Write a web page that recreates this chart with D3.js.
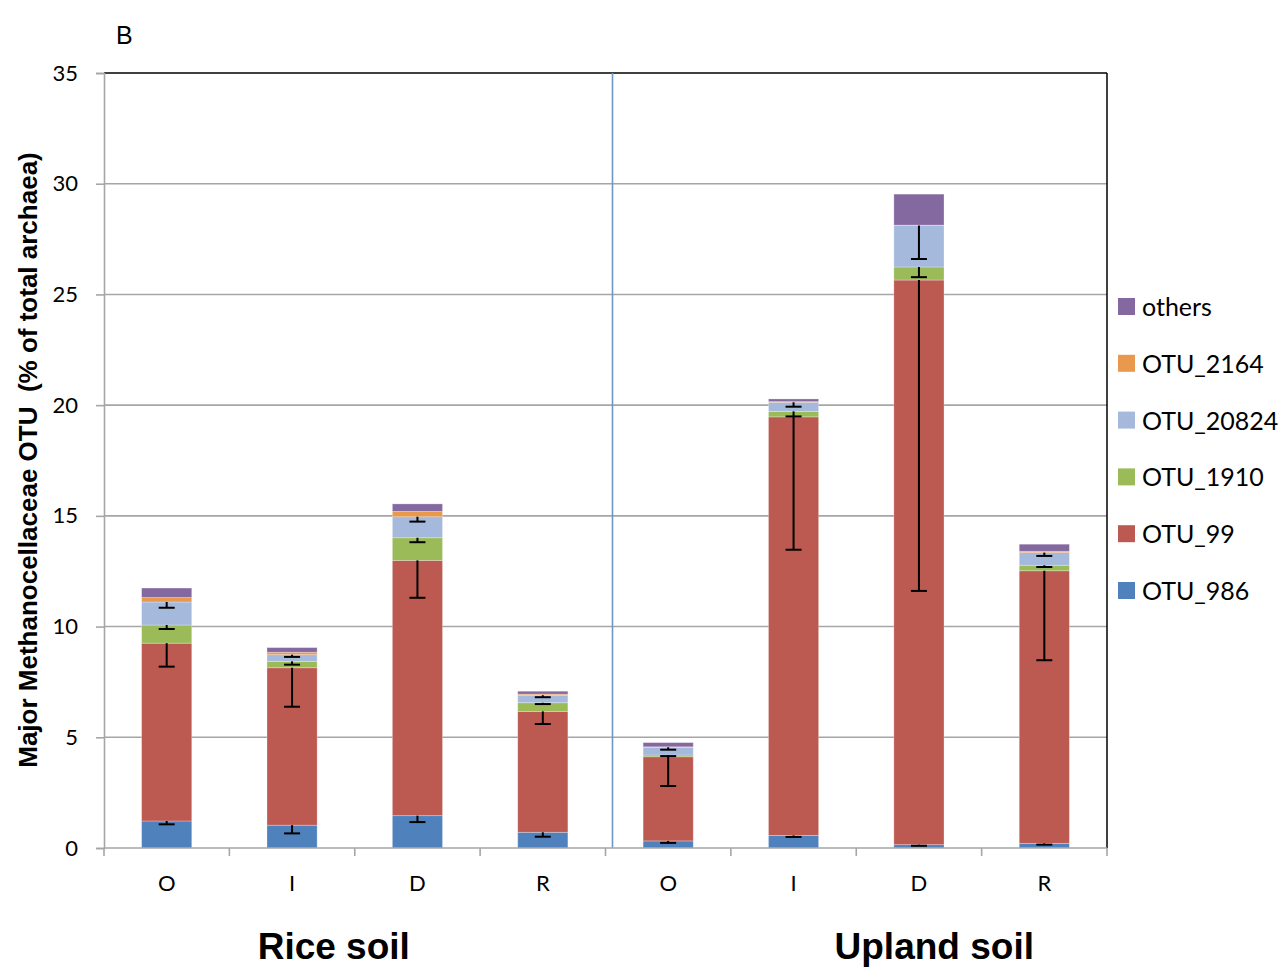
<!DOCTYPE html>
<html>
<head>
<meta charset="utf-8">
<script src="https://cdn.jsdelivr.net/npm/d3@7"></script>
<style>
  html, body { margin: 0; padding: 0; background: #fff; }
  svg { display: block; }
</style>
</head>
<body>
<svg id="chart" width="1286" height="978"></svg>
<script>
// Samples along the x axis (O, I, D, R for each soil)
const categories = ["O", "I", "D", "R", "O", "I", "D", "R"];
const groups = ["Rice soil", "Upland soil"];
const yTicks = [0, 5, 10, 15, 20, 25, 30, 35];

// Relative abundance (% of total archaea), stacked bottom to top
const otu986   = [1.22, 1.03, 1.46, 0.71, 0.32, 0.57, 0.15, 0.21];
const otu99    = [8.03, 7.11, 11.53, 5.46, 3.80, 18.90, 25.50, 12.31];
const otu1910  = [0.82, 0.29, 1.02, 0.39, 0.08, 0.25, 0.59, 0.25];
const otu20824 = [1.04, 0.30, 0.95, 0.34, 0.35, 0.41, 1.87, 0.57];
const otu2164  = [0.20, 0.11, 0.24, 0.05, 0.02, 0.03, 0.02, 0.06];
const others   = [0.43, 0.21, 0.34, 0.13, 0.19, 0.12, 1.40, 0.32];

// Standard deviations (drawn downward from each segment top)
const err986   = [0.15, 0.37, 0.29, 0.20, 0.09, 0.07, 0.05, 0.06];
const err99    = [1.06, 1.76, 1.69, 0.57, 1.32, 6.00, 14.04, 4.04];
const err1910  = [0.18, 0.15, 0.20, 0.06, 0.05, 0.23, 0.46, 0.08];
const err20824 = [0.26, 0.10, 0.22, 0.09, 0.11, 0.20, 1.51, 0.15];

const seriesNames = ["OTU_986", "OTU_99", "OTU_1910", "OTU_20824", "OTU_2164", "others"];
const seriesValues = [otu986, otu99, otu1910, otu20824, otu2164, others];
const seriesErrors = [err986, err99, err1910, err20824, null, null];
const seriesColors = ["#4F81BD", "#BC5A51", "#9BBB59", "#A4B9DC", "#E8994E", "#8468A0"];

const svg = d3.select("#chart");
const margin = { left: 104, right: 1107, top: 73, bottom: 848 };

const x = d3.scaleBand()
  .domain(d3.range(categories.length))
  .range([margin.left, margin.right])
  .padding(0);
const y = d3.scaleLinear().domain([0, 35]).range([margin.bottom, margin.top]);

const barW = x.bandwidth() * 0.4;

// Horizontal gridlines
svg.append("g")
  .selectAll("line")
  .data(yTicks.filter(t => t > 0 && t < 35))
  .join("line")
  .attr("x1", margin.left).attr("x2", margin.right)
  .attr("y1", d => y(d)).attr("y2", d => y(d))
  .attr("stroke", "#A6A6A6").attr("stroke-width", 1.6);

// Plot frame: top and right black
svg.append("line")
  .attr("x1", margin.left).attr("x2", margin.right)
  .attr("y1", y(35)).attr("y2", y(35))
  .attr("stroke", "#000").attr("stroke-width", 1.5);
svg.append("line")
  .attr("x1", margin.right).attr("x2", margin.right)
  .attr("y1", y(35)).attr("y2", y(0))
  .attr("stroke", "#000").attr("stroke-width", 1.5);

// Divider between rice and upland soils
svg.append("line")
  .attr("x1", x(4) + 7).attr("x2", x(4) + 7)
  .attr("y1", y(35)).attr("y2", y(0))
  .attr("stroke", "#6F96C9").attr("stroke-width", 1.6);

// Stacked data
const rows = categories.map((c, i) => {
  const r = { i };
  seriesNames.forEach((s, k) => { r[s] = seriesValues[k][i]; });
  return r;
});
const stacked = d3.stack().keys(seriesNames)(rows);

const bars = svg.append("g");
stacked.forEach((layer, k) => {
  bars.append("g")
    .attr("fill", seriesColors[k])
    .selectAll("rect")
    .data(layer)
    .join("rect")
    .attr("x", (d, i) => x(i) + (x.bandwidth() - barW) / 2)
    .attr("width", barW)
    .attr("y", d => y(d[1]))
    .attr("height", d => Math.max(0, y(d[0]) - y(d[1])))
    .attr("stroke", "rgba(255,255,255,0.35)")
    .attr("stroke-width", 0.8);
});

// Error bars
const errG = svg.append("g").attr("stroke", "#000").attr("stroke-width", 2);
stacked.forEach((layer, k) => {
  const errs = seriesErrors[k];
  if (!errs) return;
  layer.forEach((d, i) => {
    const cx = x(i) + x.bandwidth() / 2;
    const top = d[1];
    const low = top - errs[i];
    errG.append("line")
      .attr("x1", cx).attr("x2", cx)
      .attr("y1", y(top)).attr("y2", y(low));
    errG.append("line")
      .attr("x1", cx - 8).attr("x2", cx + 8)
      .attr("y1", y(low)).attr("y2", y(low));
  });
});

// Y axis
const yAxis = svg.append("g")
  .attr("transform", `translate(${margin.left},0)`)
  .call(d3.axisLeft(y).tickValues(yTicks).tickSize(8).tickPadding(18));
yAxis.select(".domain").attr("stroke", "#A6A6A6").attr("stroke-width", 1.6);
yAxis.selectAll(".tick line").attr("stroke", "#A6A6A6").attr("stroke-width", 1.6);
yAxis.selectAll(".tick text")
  .attr("font-family", "Lato, 'Open Sans', sans-serif")
  .attr("font-size", 22).attr("fill", "#000");

// X axis: ticks at band boundaries, labels centered in bands
const xAxisG = svg.append("g");
xAxisG.append("line")
  .attr("x1", margin.left).attr("x2", margin.right)
  .attr("y1", y(0)).attr("y2", y(0))
  .attr("stroke", "#A6A6A6").attr("stroke-width", 1.6);
xAxisG.selectAll("line.tk")
  .data(d3.range(categories.length + 1))
  .join("line").attr("class", "tk")
  .attr("x1", i => i < categories.length ? x(i) : x(i - 1) + x.bandwidth())
  .attr("x2", i => i < categories.length ? x(i) : x(i - 1) + x.bandwidth())
  .attr("y1", y(0)).attr("y2", y(0) + 8)
  .attr("stroke", "#A6A6A6").attr("stroke-width", 1.6);
xAxisG.selectAll("text")
  .data(categories)
  .join("text")
  .attr("x", (d, i) => x(i) + x.bandwidth() / 2)
  .attr("y", y(0) + 43)
  .attr("text-anchor", "middle")
  .attr("font-family", "Lato, 'Open Sans', sans-serif")
  .attr("font-size", 22)
  .text(d => d);

// Group titles
const groupOffset = [-21, 78];
svg.selectAll("text.group")
  .data(groups)
  .join("text").attr("class", "group")
  .attr("x", (d, g) => (x(g * 4) + x(g * 4 + 3) + x.bandwidth()) / 2 + groupOffset[g])
  .attr("y", 959)
  .attr("text-anchor", "middle")
  .attr("font-family", "'Liberation Sans', Arial, sans-serif")
  .attr("font-weight", "bold")
  .attr("font-size", 37)
  .text(d => d);

// Y axis title
svg.append("text")
  .attr("transform", "translate(37,460) rotate(-90)")
  .attr("text-anchor", "middle")
  .attr("font-family", "'Liberation Sans', Arial, sans-serif")
  .attr("font-weight", "bold")
  .attr("font-size", 26)
  .attr("xml:space", "preserve")
  .text("Major Methanocellaceae OTU  (% of total archaea)");

// Panel label
svg.append("text")
  .attr("x", 116).attr("y", 44)
  .attr("font-family", "'Liberation Sans', Arial, sans-serif")
  .attr("font-size", 25)
  .text("B");

// Legend (top to bottom: others ... OTU_986)
const legendOrder = d3.range(seriesNames.length).reverse();
const legend = svg.append("g");
legendOrder.forEach((k, row) => {
  const cy = 307 + row * 56.8;
  legend.append("rect")
    .attr("x", 1118).attr("y", cy - 9)
    .attr("width", 17).attr("height", 17)
    .attr("fill", seriesColors[k]);
  legend.append("text")
    .attr("x", 1142).attr("y", cy + 9)
    .attr("font-family", "Lato, 'Open Sans', sans-serif")
    .attr("font-size", 25)
    .text(seriesNames[k]);
});
</script>
</body>
</html>
